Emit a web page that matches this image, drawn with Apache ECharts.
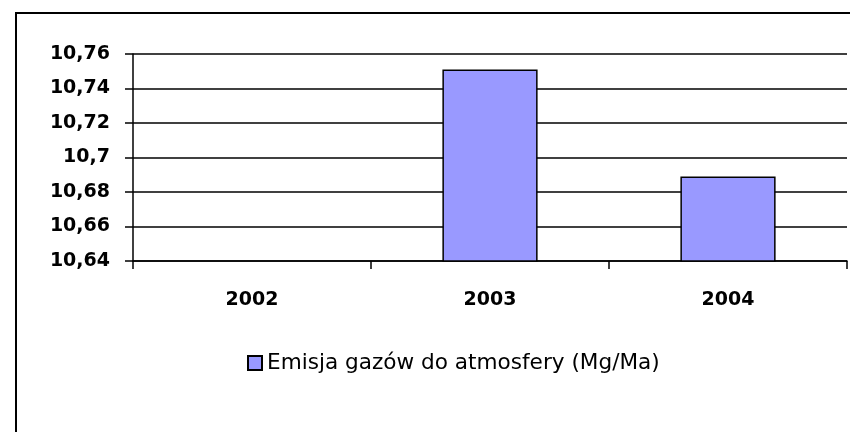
<!DOCTYPE html>
<html>
<head>
<meta charset="utf-8">
<script src="https://cdn.jsdelivr.net/npm/echarts@6/dist/echarts.min.js"></script>
<style>
  html, body { margin: 0; padding: 0; background: #fff; }
  #main { width: 850px; height: 432px; }
</style>
</head>
<body>
<div id="main"></div>
<script>
// dane
var years = ['2002', '2003', '2004'];
var emisja = [null, 10.751, 10.689];
var seriesName = 'Emisja gazów do atmosfery (Mg/Ma)';

var myChart = echarts.init(document.getElementById('main'));

var option = {
    animation: false,
    backgroundColor: '#fff',
    // ramka wykresu (lewa i górna krawędź widoczne)
    graphic: [{
        type: 'line',
        shape: { x1: 16, y1: 12, x2: 16, y2: 440 },
        style: { stroke: '#000', lineWidth: 2 },
        silent: true
    }, {
        type: 'line',
        shape: { x1: 15, y1: 13, x2: 2000, y2: 13 },
        style: { stroke: '#000', lineWidth: 2 },
        silent: true
    }],
    grid: { left: 133, right: 3, top: 54, bottom: 171 },
    legend: {
        left: 247,
        top: 352,
        padding: 0,
        itemWidth: 14,
        itemHeight: 14,
        itemGap: 5,
        icon: 'rect',
        textStyle: { fontFamily: 'DejaVu Sans', fontSize: 21.6, color: '#000' },
        data: [seriesName]
    },
    xAxis: {
        type: 'category',
        data: years,
        boundaryGap: true,
        axisLine: { lineStyle: { color: '#000', width: 1.5 } },
        axisTick: { show: true, length: 8, lineStyle: { color: '#000', width: 1.5 } },
        axisLabel: {
            margin: 30,
            fontFamily: 'DejaVu Sans',
            fontWeight: 'bold',
            fontSize: 19,
            color: '#000'
        }
    },
    yAxis: {
        type: 'value',
        min: 10.64,
        max: 10.76,
        interval: 0.02,
        axisLine: { show: true, lineStyle: { color: '#000', width: 1.5 } },
        axisTick: { show: true, length: 8, lineStyle: { color: '#000', width: 1.5 } },
        splitLine: { show: true, lineStyle: { color: '#000', width: 1.5 } },
        axisLabel: {
            margin: 23,
            fontFamily: 'DejaVu Sans',
            fontWeight: 'bold',
            fontSize: 19,
            color: '#000',
            formatter: function (v) {
                return String(Number(v.toFixed(2))).replace('.', ',');
            }
        }
    },
    series: [{
        name: seriesName,
        type: 'bar',
        barWidth: '40%',
        itemStyle: { color: '#9999ff', borderColor: '#000', borderWidth: 1.5 },
        data: emisja
    }]
};

myChart.setOption(option);
</script>
</body>
</html>
